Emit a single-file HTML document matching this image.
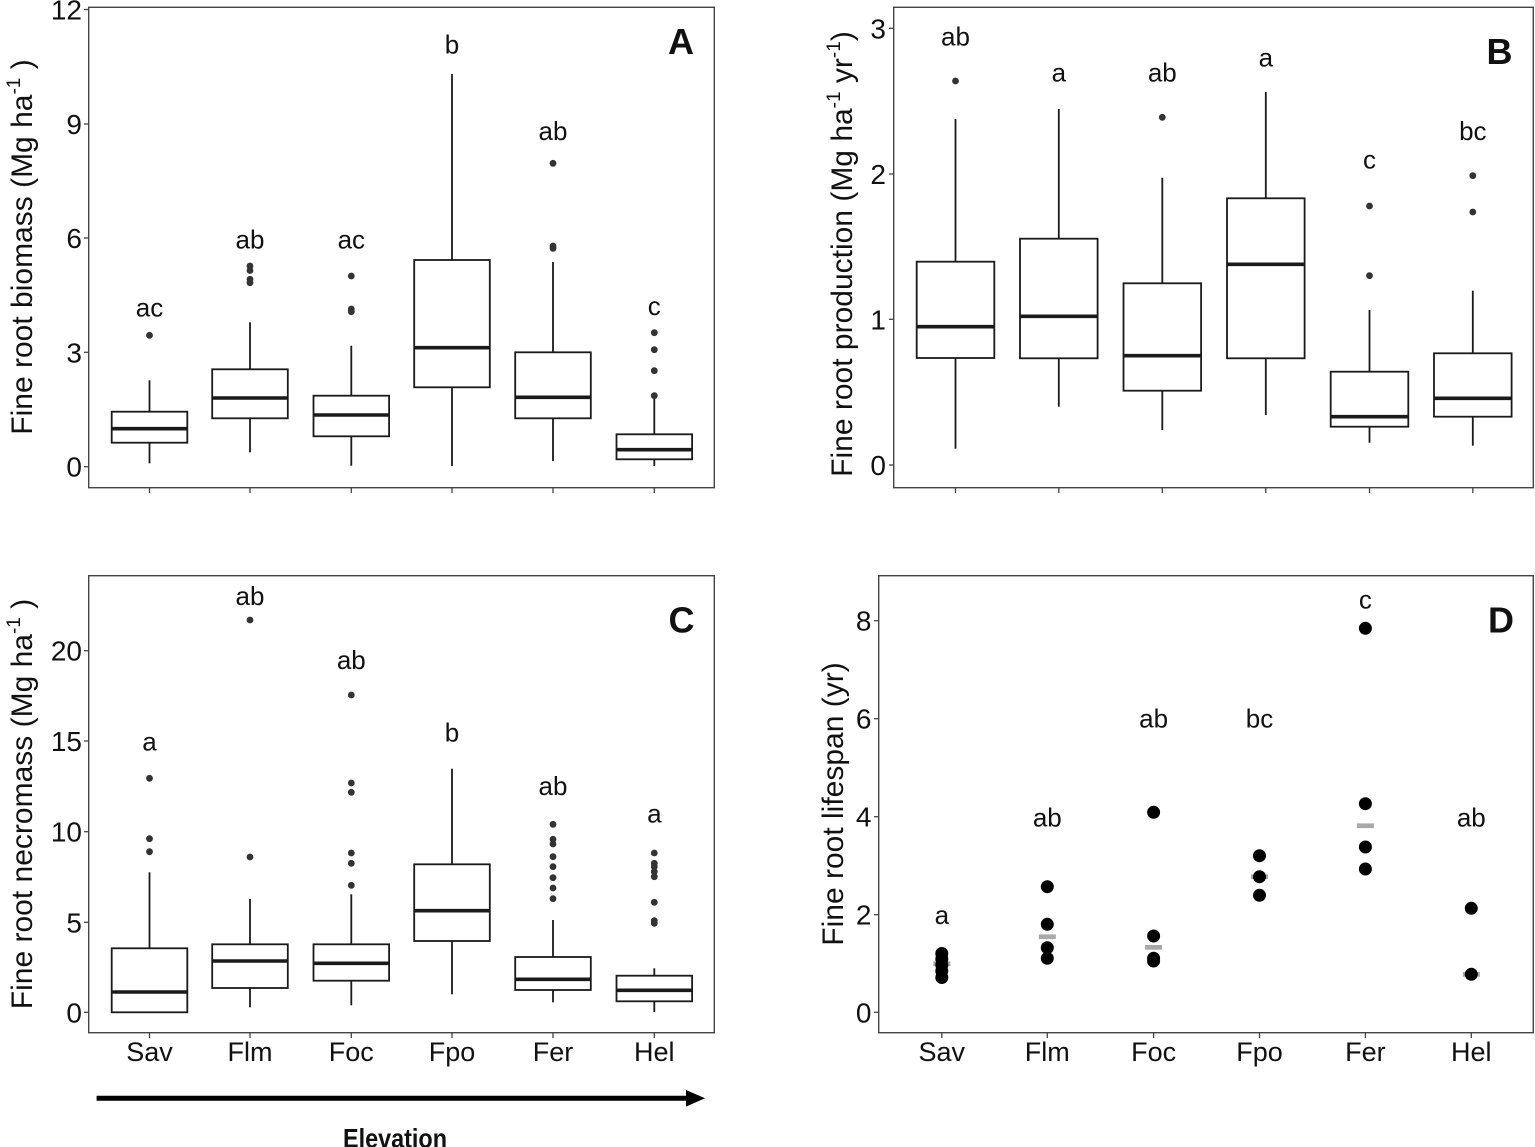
<!DOCTYPE html>
<html><head><meta charset="utf-8"><style>
html,body{margin:0;padding:0;background:#fff;}
svg{display:block;}
text{font-family:"Liberation Sans",Arial,sans-serif;fill:#111;}
.tk{font-size:28px;text-anchor:end;}
.xl{font-size:27px;text-anchor:middle;}
.lb{font-size:26px;text-anchor:middle;}
.pl{font-size:36px;font-weight:bold;text-anchor:middle;}
.ti{font-size:30px;text-anchor:middle;}
.fr{fill:none;stroke:#444;stroke-width:1.4;}
.ax line{stroke:#444;stroke-width:1.3;}
.bx rect{fill:#fff;stroke:#1a1a1a;stroke-width:1.8;}
.bx line{stroke:#1a1a1a;stroke-width:1.8;}
.bx line.md{stroke-width:3.6;}
.bx circle{fill:#333;}
.dd circle{fill:#000;}
.dd rect{fill:#a8a8a8;}
</style></head><body>
<svg width="1535" height="1147" viewBox="0 0 1535 1147" xmlns="http://www.w3.org/2000/svg">
<rect width="1535" height="1147" fill="#fff"/>

<!-- ================= PANEL A ================= -->
<rect class="fr" x="88.7" y="7.3" width="625.6" height="480.4"/>
<g class="ax">
<line x1="84" y1="466.7" x2="88.7" y2="466.7"/><line x1="84" y1="352.3" x2="88.7" y2="352.3"/><line x1="84" y1="238" x2="88.7" y2="238"/><line x1="84" y1="124" x2="88.7" y2="124"/><line x1="84" y1="9.5" x2="88.7" y2="9.5"/>
<line x1="149.5" y1="487.7" x2="149.5" y2="493"/><line x1="250" y1="487.7" x2="250" y2="493"/><line x1="351.3" y1="487.7" x2="351.3" y2="493"/><line x1="452" y1="487.7" x2="452" y2="493"/><line x1="553" y1="487.7" x2="553" y2="493"/><line x1="654.3" y1="487.7" x2="654.3" y2="493"/>
</g>
<text class="tk" x="82" y="476.7">0</text><text class="tk" x="82" y="362.3">3</text><text class="tk" x="82" y="248">6</text><text class="tk" x="82" y="134">9</text><text class="tk" x="82" y="19.5">12</text>
<text class="ti" transform="translate(32,247) rotate(-90)">Fine root biomass (Mg ha<tspan font-size="19" dy="-12">-1</tspan><tspan dy="12"> )</tspan></text>
<text class="pl" x="681" y="54">A</text>
<g class="bx">
<line x1="149.5" y1="380.3" x2="149.5" y2="411.7"/><line x1="149.5" y1="442.7" x2="149.5" y2="463.3"/><rect x="111.7" y="411.7" width="75.6" height="31"/><line class="md" x1="111.7" y1="428.7" x2="187.3" y2="428.7"/><circle cx="149.5" cy="335.3" r="3.4"/>
<line x1="250" y1="322.3" x2="250" y2="369.3"/><line x1="250" y1="418.3" x2="250" y2="452.3"/><rect x="212.2" y="369.3" width="75.6" height="49"/><line class="md" x1="212.2" y1="398" x2="287.8" y2="398"/><circle cx="250" cy="266" r="3.4"/><circle cx="250" cy="270.5" r="3.4"/><circle cx="250" cy="279.3" r="3.4"/><circle cx="250" cy="282.7" r="3.4"/>
<line x1="351.3" y1="345.7" x2="351.3" y2="395.7"/><line x1="351.3" y1="436.3" x2="351.3" y2="465.7"/><rect x="313.5" y="395.7" width="75.6" height="40.6"/><line class="md" x1="313.5" y1="415" x2="389.1" y2="415"/><circle cx="351.3" cy="276" r="3.4"/><circle cx="351.3" cy="309" r="3.4"/><circle cx="351.3" cy="311.7" r="3.4"/>
<line x1="452" y1="74" x2="452" y2="260"/><line x1="452" y1="387.3" x2="452" y2="466"/><rect x="414.2" y="260" width="75.6" height="127.3"/><line class="md" x1="414.2" y1="347.7" x2="489.8" y2="347.7"/>
<line x1="553" y1="262" x2="553" y2="352.3"/><line x1="553" y1="418.3" x2="553" y2="461"/><rect x="515.2" y="352.3" width="75.6" height="66"/><line class="md" x1="515.2" y1="397.3" x2="590.8" y2="397.3"/><circle cx="553" cy="163.3" r="3.4"/><circle cx="553" cy="246" r="3.4"/><circle cx="553" cy="248.3" r="3.4"/>
<line x1="654.3" y1="398.3" x2="654.3" y2="434.3"/><line x1="654.3" y1="459.3" x2="654.3" y2="466"/><rect x="616.5" y="434.3" width="75.6" height="25"/><line class="md" x1="616.5" y1="449.7" x2="692.1" y2="449.7"/><circle cx="654.3" cy="332.7" r="3.4"/><circle cx="654.3" cy="349.7" r="3.4"/><circle cx="654.3" cy="370.7" r="3.4"/><circle cx="654.3" cy="395.7" r="3.4"/>
</g>
<text class="lb" x="149.5" y="316.7">ac</text><text class="lb" x="250" y="248.3">ab</text><text class="lb" x="351.3" y="248.3">ac</text><text class="lb" x="452" y="53.3">b</text><text class="lb" x="553" y="140">ab</text><text class="lb" x="654.3" y="315">c</text>

<!-- ================= PANEL B ================= -->
<rect class="fr" x="893.7" y="7.3" width="639.6" height="480.4"/>
<g class="ax">
<line x1="889" y1="465" x2="893.7" y2="465"/><line x1="889" y1="319.3" x2="893.7" y2="319.3"/><line x1="889" y1="174" x2="893.7" y2="174"/><line x1="889" y1="28.3" x2="893.7" y2="28.3"/>
<line x1="955.5" y1="487.7" x2="955.5" y2="493"/><line x1="1058.8" y1="487.7" x2="1058.8" y2="493"/><line x1="1162.3" y1="487.7" x2="1162.3" y2="493"/><line x1="1265.8" y1="487.7" x2="1265.8" y2="493"/><line x1="1369.5" y1="487.7" x2="1369.5" y2="493"/><line x1="1472.8" y1="487.7" x2="1472.8" y2="493"/>
</g>
<text class="tk" x="886" y="475">0</text><text class="tk" x="886" y="329.3">1</text><text class="tk" x="886" y="184">2</text><text class="tk" x="886" y="38.3">3</text>
<text class="ti" transform="translate(852,254) rotate(-90)">Fine root production (Mg ha<tspan font-size="19" dy="-12">-1</tspan><tspan dy="12"> yr</tspan><tspan font-size="19" dy="-12">-1</tspan><tspan dy="12">)</tspan></text>
<text class="pl" x="1499.5" y="64">B</text>
<g class="bx">
<line x1="955.5" y1="119" x2="955.5" y2="261.7"/><line x1="955.5" y1="358" x2="955.5" y2="448.7"/><rect x="916.7" y="261.7" width="77.6" height="96.3"/><line class="md" x1="916.7" y1="326.7" x2="994.3" y2="326.7"/><circle cx="955.5" cy="81" r="3.4"/>
<line x1="1058.8" y1="109" x2="1058.8" y2="238.7"/><line x1="1058.8" y1="358.3" x2="1058.8" y2="406.7"/><rect x="1020" y="238.7" width="77.6" height="119.6"/><line class="md" x1="1020" y1="316.3" x2="1097.6" y2="316.3"/>
<line x1="1162.3" y1="177.7" x2="1162.3" y2="283.3"/><line x1="1162.3" y1="390.7" x2="1162.3" y2="430"/><rect x="1123.5" y="283.3" width="77.6" height="107.4"/><line class="md" x1="1123.5" y1="355.7" x2="1201.1" y2="355.7"/><circle cx="1162.3" cy="117.3" r="3.4"/>
<line x1="1265.8" y1="92" x2="1265.8" y2="198.3"/><line x1="1265.8" y1="358.3" x2="1265.8" y2="415"/><rect x="1227" y="198.3" width="77.6" height="160"/><line class="md" x1="1227" y1="264.3" x2="1304.6" y2="264.3"/>
<line x1="1369.5" y1="310" x2="1369.5" y2="371.7"/><line x1="1369.5" y1="426.7" x2="1369.5" y2="442.7"/><rect x="1330.7" y="371.7" width="77.6" height="55"/><line class="md" x1="1330.7" y1="416.7" x2="1408.3" y2="416.7"/><circle cx="1369.5" cy="206" r="3.4"/><circle cx="1369.5" cy="275.7" r="3.4"/>
<line x1="1472.8" y1="290.7" x2="1472.8" y2="353.3"/><line x1="1472.8" y1="416.7" x2="1472.8" y2="445.7"/><rect x="1434" y="353.3" width="77.6" height="63.4"/><line class="md" x1="1434" y1="398.3" x2="1511.6" y2="398.3"/><circle cx="1472.8" cy="175.7" r="3.4"/><circle cx="1472.8" cy="212" r="3.4"/>
</g>
<text class="lb" x="955.5" y="45.7">ab</text><text class="lb" x="1058.8" y="81.7">a</text><text class="lb" x="1162.3" y="81.7">ab</text><text class="lb" x="1265.8" y="66.7">a</text><text class="lb" x="1369.5" y="168.3">c</text><text class="lb" x="1472.8" y="140">bc</text>

<!-- ================= PANEL C ================= -->
<rect class="fr" x="88.7" y="575.7" width="625.6" height="457"/>
<g class="ax">
<line x1="84" y1="1012.3" x2="88.7" y2="1012.3"/><line x1="84" y1="922.3" x2="88.7" y2="922.3"/><line x1="84" y1="831.7" x2="88.7" y2="831.7"/><line x1="84" y1="741" x2="88.7" y2="741"/><line x1="84" y1="650.7" x2="88.7" y2="650.7"/>
<line x1="149.5" y1="1032.7" x2="149.5" y2="1038"/><line x1="250" y1="1032.7" x2="250" y2="1038"/><line x1="351.3" y1="1032.7" x2="351.3" y2="1038"/><line x1="452" y1="1032.7" x2="452" y2="1038"/><line x1="553" y1="1032.7" x2="553" y2="1038"/><line x1="654.3" y1="1032.7" x2="654.3" y2="1038"/>
</g>
<text class="tk" x="82" y="1022.3">0</text><text class="tk" x="82" y="932.3">5</text><text class="tk" x="82" y="841.7">10</text><text class="tk" x="82" y="751">15</text><text class="tk" x="82" y="660.7">20</text>
<text class="ti" transform="translate(32,804) rotate(-90)">Fine root necromass (Mg ha<tspan font-size="19" dy="-12">-1</tspan><tspan dy="12"> )</tspan></text>
<text class="pl" x="681.5" y="632.7">C</text>
<g class="bx">
<line x1="149.5" y1="872.3" x2="149.5" y2="948.3"/><rect x="111.7" y="948.3" width="75.6" height="64"/><line class="md" x1="111.7" y1="992" x2="187.3" y2="992"/><circle cx="149.5" cy="778.3" r="3.4"/><circle cx="149.5" cy="838.7" r="3.4"/><circle cx="149.5" cy="851.7" r="3.4"/>
<line x1="250" y1="899" x2="250" y2="944.3"/><line x1="250" y1="988" x2="250" y2="1007.3"/><rect x="212.2" y="944.3" width="75.6" height="43.7"/><line class="md" x1="212.2" y1="961" x2="287.8" y2="961"/><circle cx="250" cy="620" r="3.4"/><circle cx="250" cy="857" r="3.4"/>
<line x1="351.3" y1="894.3" x2="351.3" y2="944.3"/><line x1="351.3" y1="980.7" x2="351.3" y2="1005.3"/><rect x="313.5" y="944.3" width="75.6" height="36.4"/><line class="md" x1="313.5" y1="963.3" x2="389.1" y2="963.3"/><circle cx="351.3" cy="695" r="3.4"/><circle cx="351.3" cy="783" r="3.4"/><circle cx="351.3" cy="792.3" r="3.4"/><circle cx="351.3" cy="853" r="3.4"/><circle cx="351.3" cy="863.3" r="3.4"/><circle cx="351.3" cy="885.3" r="3.4"/>
<line x1="452" y1="768.7" x2="452" y2="864.3"/><line x1="452" y1="941" x2="452" y2="994.3"/><rect x="414.2" y="864.3" width="75.6" height="76.7"/><line class="md" x1="414.2" y1="910.7" x2="489.8" y2="910.7"/>
<line x1="553" y1="920" x2="553" y2="957"/><line x1="553" y1="990" x2="553" y2="1002.3"/><rect x="515.2" y="957" width="75.6" height="33"/><line class="md" x1="515.2" y1="979.3" x2="590.8" y2="979.3"/><circle cx="553" cy="824.3" r="3.4"/><circle cx="553" cy="839.3" r="3.4"/><circle cx="553" cy="844" r="3.4"/><circle cx="553" cy="856.7" r="3.4"/><circle cx="553" cy="866.7" r="3.4"/><circle cx="553" cy="877.7" r="3.4"/><circle cx="553" cy="888" r="3.4"/><circle cx="553" cy="898.7" r="3.4"/>
<line x1="654.3" y1="968.3" x2="654.3" y2="975.7"/><line x1="654.3" y1="1001.3" x2="654.3" y2="1012"/><rect x="616.5" y="975.7" width="75.6" height="25.6"/><line class="md" x1="616.5" y1="990.3" x2="692.1" y2="990.3"/><circle cx="654.3" cy="853" r="3.4"/><circle cx="654.3" cy="863.3" r="3.4"/><circle cx="654.3" cy="866.7" r="3.4"/><circle cx="654.3" cy="871.7" r="3.4"/><circle cx="654.3" cy="876.7" r="3.4"/><circle cx="654.3" cy="902.3" r="3.4"/><circle cx="654.3" cy="920.7" r="3.4"/><circle cx="654.3" cy="923.3" r="3.4"/>
</g>
<text class="lb" x="149.5" y="750.7">a</text><text class="lb" x="250" y="605">ab</text><text class="lb" x="351.3" y="669">ab</text><text class="lb" x="452" y="741.7">b</text><text class="lb" x="553" y="795">ab</text><text class="lb" x="654.3" y="822.3">a</text>
<text class="xl" x="149.5" y="1061">Sav</text><text class="xl" x="250" y="1061">Flm</text><text class="xl" x="351.3" y="1061">Foc</text><text class="xl" x="452" y="1061">Fpo</text><text class="xl" x="553" y="1061">Fer</text><text class="xl" x="654.3" y="1061">Hel</text>

<!-- ================= PANEL D ================= -->
<rect class="fr" x="878.7" y="575.7" width="654.6" height="457"/>
<g class="ax">
<line x1="874" y1="1012.3" x2="878.7" y2="1012.3"/><line x1="874" y1="914.7" x2="878.7" y2="914.7"/><line x1="874" y1="816.7" x2="878.7" y2="816.7"/><line x1="874" y1="718.7" x2="878.7" y2="718.7"/><line x1="874" y1="620.7" x2="878.7" y2="620.7"/>
<line x1="941.8" y1="1032.7" x2="941.8" y2="1038"/><line x1="1047.3" y1="1032.7" x2="1047.3" y2="1038"/><line x1="1153.6" y1="1032.7" x2="1153.6" y2="1038"/><line x1="1259.5" y1="1032.7" x2="1259.5" y2="1038"/><line x1="1365.4" y1="1032.7" x2="1365.4" y2="1038"/><line x1="1471.3" y1="1032.7" x2="1471.3" y2="1038"/>
</g>
<text class="tk" x="871.5" y="1022.3">0</text><text class="tk" x="871.5" y="924.7">2</text><text class="tk" x="871.5" y="826.7">4</text><text class="tk" x="871.5" y="728.7">6</text><text class="tk" x="871.5" y="630.7">8</text>
<text class="ti" transform="translate(843,804) rotate(-90)">Fine root lifespan (yr)</text>
<text class="pl" x="1501" y="632.7">D</text>
<g class="dd">
<rect x="933.3" y="961.4" width="17" height="4.7"/>
<rect x="1038.8" y="934.4" width="17" height="4.7"/>
<rect x="1145.1" y="945" width="17" height="4.7"/>
<rect x="1251" y="874.4" width="17" height="4.7"/>
<rect x="1356.9" y="823.4" width="17" height="4.7"/>
<rect x="1462.8" y="972" width="17" height="4.7"/>
<circle cx="941.8" cy="953.5" r="6.5"/><circle cx="941.8" cy="959" r="6.5"/><circle cx="941.8" cy="965" r="6.5"/><circle cx="941.8" cy="971" r="6.5"/><circle cx="941.8" cy="977.5" r="6.5"/>
<circle cx="1047.3" cy="886.7" r="6.5"/><circle cx="1047.3" cy="924.3" r="6.5"/><circle cx="1047.3" cy="947.7" r="6.5"/><circle cx="1047.3" cy="958.3" r="6.5"/>
<circle cx="1153.6" cy="812.3" r="6.5"/><circle cx="1153.6" cy="936" r="6.5"/><circle cx="1153.6" cy="958.3" r="6.5"/><circle cx="1153.6" cy="961" r="6.5"/>
<circle cx="1259.5" cy="855.7" r="6.5"/><circle cx="1259.5" cy="876.7" r="6.5"/><circle cx="1259.5" cy="895.3" r="6.5"/>
<circle cx="1365.4" cy="628.3" r="6.5"/><circle cx="1365.4" cy="803.7" r="6.5"/><circle cx="1365.4" cy="847" r="6.5"/><circle cx="1365.4" cy="869" r="6.5"/>
<circle cx="1471.3" cy="908.3" r="6.5"/><circle cx="1471.3" cy="974.3" r="6.5"/>
</g>
<text class="lb" x="941.8" y="924">a</text><text class="lb" x="1047.3" y="826.7">ab</text><text class="lb" x="1153.6" y="727.7">ab</text><text class="lb" x="1259.5" y="727.7">bc</text><text class="lb" x="1365.4" y="608.3">c</text><text class="lb" x="1471.3" y="826.7">ab</text>
<text class="xl" x="941.8" y="1061">Sav</text><text class="xl" x="1047.3" y="1061">Flm</text><text class="xl" x="1153.6" y="1061">Foc</text><text class="xl" x="1259.5" y="1061">Fpo</text><text class="xl" x="1365.4" y="1061">Fer</text><text class="xl" x="1471.3" y="1061">Hel</text>

<!-- ================= Elevation arrow ================= -->
<line x1="96.6" y1="1098.3" x2="690" y2="1098.3" stroke="#000" stroke-width="5"/>
<polygon points="686,1090 705,1098.3 686,1106.6" fill="#000"/>
<text x="395" y="1147.5" font-size="27" font-weight="bold" text-anchor="middle" textLength="104" lengthAdjust="spacingAndGlyphs">Elevation</text>
</svg>
</body></html>
